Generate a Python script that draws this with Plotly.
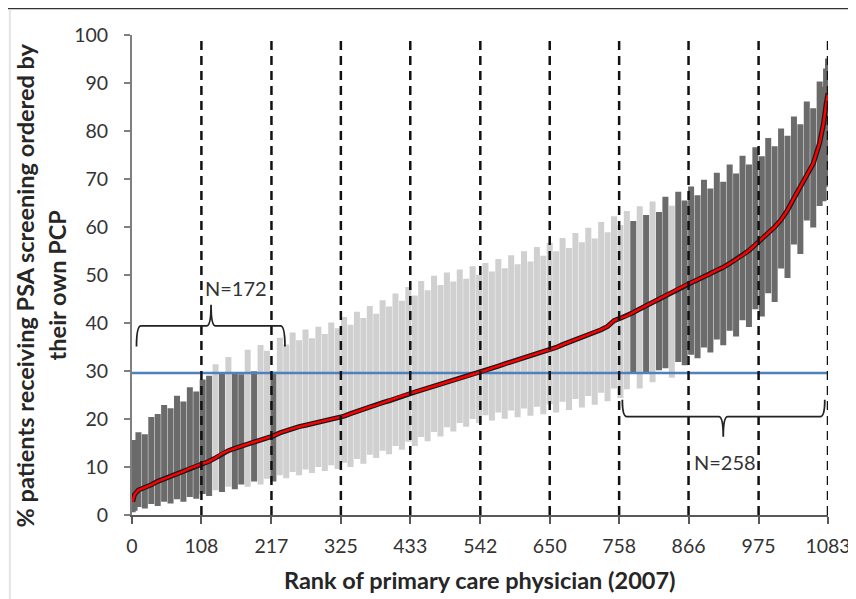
import plotly.graph_objects as go

# ---------------- data ----------------
ranks = [1, 4, 10, 20, 30, 40, 50, 60, 70, 80, 90, 100, 110, 120, 130, 140, 150, 160, 170, 180,
         190, 200, 210, 220, 230, 240, 250, 260, 270, 280, 290, 300, 310, 320, 330, 340, 350, 360,
         370, 380, 390, 400, 410, 420, 430, 440, 450, 460, 470, 480, 490, 500, 510, 520, 530, 540,
         550, 560, 570, 580, 590, 600, 610, 620, 630, 640, 650, 660, 670, 680, 690, 700, 710, 720,
         730, 740, 750, 760, 770, 780, 790, 800, 810, 820, 830, 840, 850, 860, 870, 880, 890, 900,
         910, 920, 930, 940, 950, 960, 970, 980, 990, 1000, 1010, 1020, 1030, 1040, 1050, 1060,
         1070, 1076, 1080, 1083]

pct_own_pcp = [2.8, 4.3, 5.2, 5.7, 6.3, 7.0, 7.5, 8.0, 8.6, 9.1, 9.7, 10.2, 10.7, 11.2, 11.9, 12.8,
               13.4, 13.9, 14.3, 14.8, 15.2, 15.6, 16.0, 16.5, 17.1, 17.6, 18.0, 18.4, 18.7, 19.0,
               19.4, 19.7, 20.0, 20.3, 20.6, 21.1, 21.6, 22.0, 22.5, 22.9, 23.4, 23.8, 24.3, 24.8,
               25.2, 25.6, 26.0, 26.4, 26.8, 27.2, 27.6, 28.1, 28.5, 28.9, 29.3, 29.7, 30.1, 30.6,
               31.0, 31.5, 31.9, 32.3, 32.8, 33.2, 33.6, 34.0, 34.4, 34.9, 35.5, 36.0, 36.5, 37.0,
               37.5, 38.0, 38.6, 39.3, 40.5, 41.0, 41.5, 42.2, 42.9, 43.6, 44.4, 45.1, 45.8, 46.5,
               47.1, 47.8, 48.4, 49.0, 49.6, 50.3, 51.0, 51.6, 52.4, 53.2, 54.1, 55.1, 56.3, 57.5,
               58.8, 60.0, 61.5, 63.5, 66.0, 68.4, 70.8, 73.2, 77.5, 81.5, 85.5, 87.9]

ci_upper = [14.2, 15.0, 16.6, 16.2, 19.8, 20.4, 22.3, 21.6, 24.2, 23.0, 26.0, 25.1, 27.6, 28.4, 30.8,
            28.9, 32.3, 29.1, 28.7, 33.8, 29.3, 34.8, 33.6, 29.2, 36.3, 34.9, 37.4, 35.8, 38.0, 36.2,
            38.6, 37.1, 39.5, 38.3, 40.6, 39.0, 41.7, 40.4, 42.9, 41.3, 44.1, 42.8, 45.5, 44.0, 46.9,
            45.1, 48.1, 46.2, 49.2, 47.3, 49.9, 48.0, 50.5, 48.6, 51.2, 49.4, 51.9, 50.1, 52.7, 50.8,
            53.5, 51.6, 54.3, 52.2, 55.2, 53.4, 56.1, 54.3, 57.1, 55.0, 58.1, 56.2, 59.2, 57.0, 60.4,
            58.3, 61.6, 59.8, 62.7, 60.6, 63.7, 61.9, 64.7, 62.5, 65.7, 63.8, 66.7, 64.9, 67.8, 66.0,
            69.2, 67.4, 70.7, 68.8, 72.4, 70.5, 74.2, 72.4, 76.0, 74.1, 77.9, 76.2, 79.9, 78.4, 82.4,
            80.8, 85.5, 84.1, 89.7, 88.6, 92.4, 94.5]

ci_lower = [1.2, 1.5, 2.3, 2.0, 2.9, 2.5, 3.4, 3.0, 3.9, 3.4, 4.4, 4.0, 5.0, 4.6, 5.8, 5.4, 6.5, 6.0,
            7.0, 6.5, 7.6, 7.0, 8.2, 7.6, 8.9, 8.3, 9.6, 8.9, 10.1, 9.4, 10.6, 9.8, 11.0, 10.2, 11.5,
            10.6, 12.3, 11.3, 13.2, 12.5, 14.0, 13.3, 15.0, 14.2, 15.9, 15.0, 16.9, 16.0, 17.9, 17.0,
            18.9, 18.0, 19.8, 19.0, 20.6, 19.8, 21.4, 20.3, 22.0, 20.7, 22.4, 21.0, 22.8, 21.3, 23.2,
            21.6, 23.7, 22.0, 24.2, 22.5, 24.8, 23.0, 25.4, 23.6, 26.1, 24.3, 27.0, 25.0, 26.8, 30.0,
            27.0, 30.4, 28.3, 30.8, 31.2, 29.2, 32.5, 31.8, 34.0, 33.3, 35.5, 34.5, 37.2, 36.0, 39.0,
            37.8, 41.2, 39.8, 43.5, 42.0, 46.8, 45.0, 52.0, 50.0, 57.0, 55.0, 62.0, 60.5, 65.0, 66.0,
            69.0, 72.0]

state_mean = 29.6

decile_ranks = [0, 108, 217, 325, 433, 542, 650, 758, 866, 975, 1083]
decile_labels = ["0", "108", "217", "325", "433", "542", "650", "758", "866", "975", "1083"]
decile_values = ["10.6", "16.3", "20.4", "25.3", "29.8", "34.4", "40.9", "48.1", "56.8", "87.9"]

group_labels = ["N=172", "N=258"]

assert len(ranks) == len(pct_own_pcp) == len(ci_upper) == len(ci_lower)

# ---------------- split bars by whether the CI excludes the mean ----------------
light, dark = [], []
for r, m, lo, hi in zip(ranks, pct_own_pcp, ci_lower, ci_upper):
    (dark if (hi < state_mean or lo > state_mean) else light).append((r, m, lo, hi))


def err_trace(rows, color):
    xs = [row[0] for row in rows]
    ys = [row[1] for row in rows]
    plus = [row[3] - row[1] for row in rows]
    minus = [row[1] - row[2] for row in rows]
    return go.Scatter(
        x=xs, y=ys, mode="markers",
        marker=dict(size=1, color="rgba(0,0,0,0)"),
        error_y=dict(type="data", symmetric=False, array=plus, arrayminus=minus,
                     color=color, thickness=6, width=3),
        cliponaxis=False, hoverinfo="skip",
    )


FONT = "Lato"
TXT = "#333333"
fig = go.Figure()
fig.add_trace(err_trace(light, "#d0d0d0"))
fig.add_trace(err_trace(dark, "#6b6b6b"))

# state mean line
fig.add_trace(go.Scatter(x=[decile_ranks[0], decile_ranks[-1]], y=[state_mean, state_mean],
                         mode="lines", line=dict(color="#4f81bd", width=2.5), hoverinfo="skip"))

# ranked percentages (red with dark outline)
fig.add_trace(go.Scatter(x=ranks, y=pct_own_pcp, mode="lines",
                         line=dict(color="#1a1a1a", width=5), hoverinfo="skip"))
fig.add_trace(go.Scatter(x=ranks, y=pct_own_pcp, mode="lines",
                         line=dict(color="#ff0000", width=2.5), hoverinfo="skip"))

# dashed decile lines + labels on top
for r in decile_ranks[1:]:
    fig.add_shape(type="line", x0=r, x1=r, y0=0, y1=99, xref="x", yref="y",
                  line=dict(color="#111111", width=2.5, dash="9px,6px"))
for r, lab in zip(decile_ranks[1:], decile_values):
    fig.add_annotation(x=r, y=101.8, xref="x", yref="y", text=lab, showarrow=False,
                       font=dict(family=FONT, size=20.5, color=TXT),
                       xanchor="center", yanchor="middle")

# braces
brace_color = "#222222"
fig.add_shape(type="path", xref="x", yref="y", layer="above",
              path="M 7,35.1 Q 7,39.4 14,39.4 L 116,39.4 Q 123,39.4 123,43.8 "
                   "Q 123,39.4 130,39.4 L 231,39.4 Q 238,39.4 238,35.1",
              line=dict(color=brace_color, width=1.8))
fig.add_shape(type="path", xref="x", yref="y", layer="above",
              path="M 763,24 Q 763,20.5 770,20.5 L 913,20.5 Q 920,20.5 920,16.3 "
                   "Q 920,20.5 927,20.5 L 1071,20.5 Q 1078,20.5 1078,24",
              line=dict(color=brace_color, width=1.8))
fig.add_annotation(x=162, y=47.2, xref="x", yref="y", text=group_labels[0], showarrow=False,
                   font=dict(family=FONT, size=20, color=TXT), xanchor="center", yanchor="middle")
fig.add_annotation(x=923, y=11.1, xref="x", yref="y", text=group_labels[1], showarrow=False,
                   font=dict(family=FONT, size=20, color=TXT), xanchor="center", yanchor="middle")

# axis titles
fig.add_annotation(x=0.5, y=-0.135, xref="paper", yref="paper", showarrow=False,
                   text="<b>Rank of primary care physician (2007)</b>",
                   xanchor="center", yanchor="middle",
                   font=dict(family=FONT, size=23.5, color="#262626"))
fig.add_annotation(x=-0.1533, y=0.479, xref="paper", yref="paper", showarrow=False, textangle=-90,
                   text="<b>% patients receiving PSA screening ordered by</b>",
                   xanchor="center", yanchor="middle",
                   font=dict(family=FONT, size=23.5, color="#262626"))
fig.add_annotation(x=-0.1073, y=0.479, xref="paper", yref="paper", showarrow=False, textangle=-90,
                   text="<b>their own PCP</b>",
                   xanchor="center", yanchor="middle",
                   font=dict(family=FONT, size=23.5, color="#262626"))

# frame of the original picture (top dark rule, faint left rule)
fig.add_shape(type="line", xref="paper", yref="paper", x0=-0.18, x1=1.06, y0=1.0555, y1=1.0555,
              line=dict(color="#333333", width=2))
fig.add_shape(type="line", xref="paper", yref="paper", x0=-0.1755, x1=-0.1755, y0=1.053, y1=-0.2,
              line=dict(color="#e3e3e3", width=2))

fig.update_xaxes(range=[0, 1083], tickvals=decile_ranks, ticktext=decile_labels,
                 ticks="outside", ticklen=7, tickwidth=1.5, tickcolor="#595959",
                 showline=True, linecolor="#595959", linewidth=2, showgrid=False, zeroline=False,
                 automargin=False,
                 tickfont=dict(family=FONT, size=19.5, color=TXT), ticklabelstandoff=6)
fig.update_yaxes(range=[0, 100], dtick=10, ticks="outside", ticklen=6, tickwidth=1.5,
                 tickcolor="#7f7f7f", showline=True, linecolor="#7f7f7f", linewidth=2,
                 showgrid=False, zeroline=False, automargin=False,
                 tickfont=dict(family=FONT, size=19.5, color=TXT), ticklabelstandoff=12)

# the page adds an 8 px body margin, so the plot area is placed 8 px up/left of the target
fig.update_layout(width=856, height=599, margin=dict(l=124, r=36, t=27, b=92),
                  plot_bgcolor="white", paper_bgcolor="white", showlegend=False,
                  font=dict(family=FONT, size=19, color=TXT))

fig.write_html("out.html")
